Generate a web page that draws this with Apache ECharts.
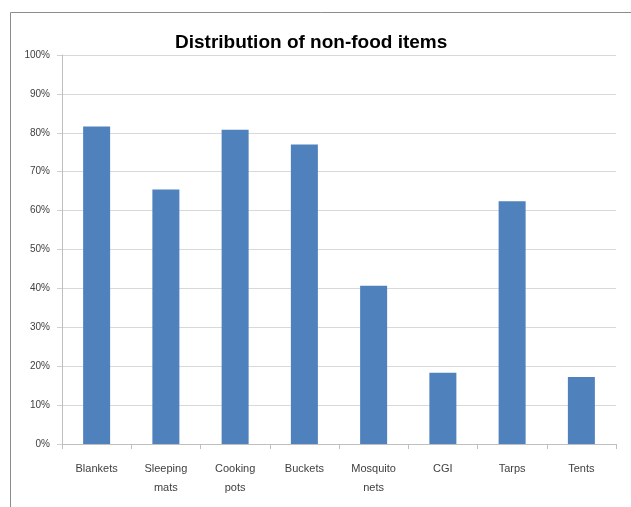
<!DOCTYPE html>
<html>
<head>
<meta charset="utf-8">
<script src="https://cdn.jsdelivr.net/npm/echarts@6/dist/echarts.min.js"></script>
<style>
  html, body { margin: 0; padding: 0; background: #ffffff; }
  #chart { width: 631px; height: 507px; }
</style>
</head>
<body>
<div id="chart"></div>
<script>
  // categories and values (percent)
  var categories = ['Blankets', 'Sleeping\nmats', 'Cooking\npots', 'Buckets', 'Mosquito\nnets', 'CGI', 'Tarps', 'Tents'];
  var shares = [81.6, 65.4, 80.8, 77.0, 40.7, 18.3, 62.4, 17.2];
  var yTicks = [0, 10, 20, 30, 40, 50, 60, 70, 80, 90, 100];

  var chart = echarts.init(document.getElementById('chart'));
  chart.setOption({
    animation: false,
    backgroundColor: '#ffffff',
    title: {
      text: 'Distribution of non-food items',
      left: 170,
      top: 28,
      textStyle: {
        fontFamily: 'Liberation Sans',
        fontSize: 19,
        fontWeight: 'bold',
        color: '#000000'
      }
    },
    graphic: [{
      // chart frame, only top and left edges are in view
      type: 'rect',
      shape: { x: 10.5, y: 12.5, width: 700, height: 600 },
      style: { fill: 'none', stroke: '#8c8c8c', lineWidth: 1 }
    }],
    grid: { left: 62, right: 15, top: 55, bottom: 63 },
    xAxis: {
      type: 'category',
      data: categories,
      axisLine: { lineStyle: { color: '#bfbfbf' } },
      axisTick: { show: true, length: 5, lineStyle: { color: '#bfbfbf' } },
      axisLabel: {
        interval: 0,
        margin: 15,
        fontFamily: 'Liberation Sans',
        fontSize: 11,
        lineHeight: 19,
        color: '#404040'
      }
    },
    yAxis: {
      type: 'value',
      min: yTicks[0],
      max: yTicks[yTicks.length - 1],
      interval: 10,
      axisLine: { show: true, lineStyle: { color: '#bfbfbf' } },
      axisTick: { show: true, length: 5, lineStyle: { color: '#d0d0d0' } },
      splitLine: { lineStyle: { color: '#d9d9d9' } },
      axisLabel: {
        formatter: '{value}%',
        margin: 12,
        fontFamily: 'Liberation Sans',
        fontSize: 10,
        color: '#404040'
      }
    },
    series: [{
      type: 'bar',
      data: shares,
      barWidth: '39%',
      itemStyle: { color: '#4f81bd' }
    }]
  });
</script>
</body>
</html>
